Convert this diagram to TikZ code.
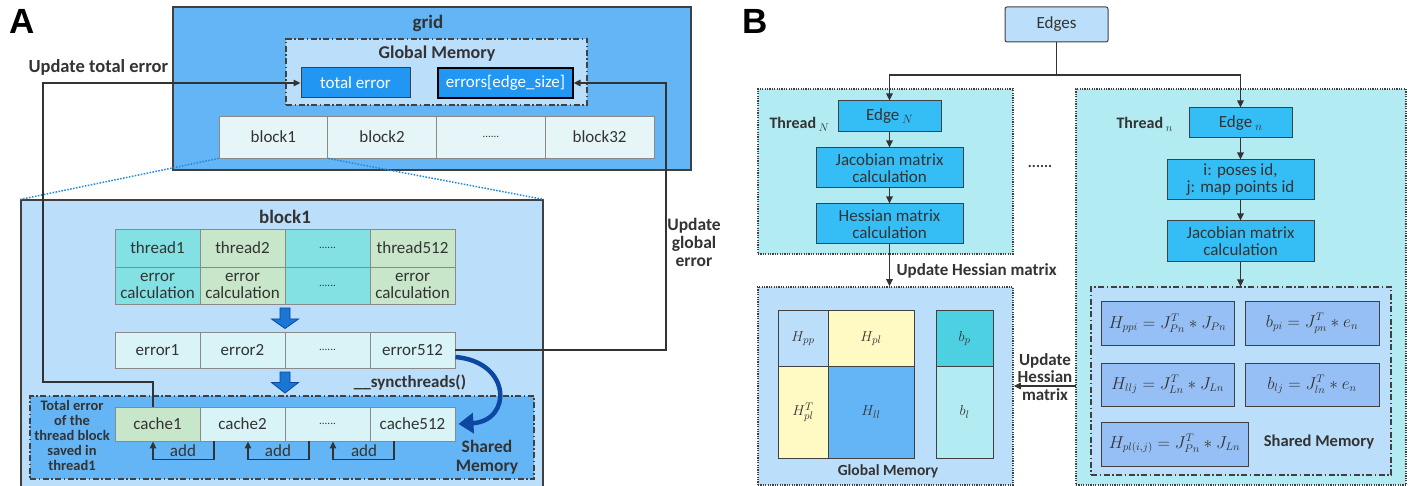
\documentclass[tikz,border=0pt]{standalone}
\usepackage{fontspec}
\setmainfont{Carlito}
\newfontfamily\panelfont{Liberation Sans}
\usetikzlibrary{arrows.meta,calc,fit}

\definecolor{txt}{HTML}{333333}
\definecolor{frame}{HTML}{404040}
\definecolor{cellline}{HTML}{8A8A8A}
\definecolor{gridblue}{HTML}{64B5F6}
\definecolor{paleblue}{HTML}{BBDEFB}
\definecolor{memblue}{HTML}{2196F3}
\definecolor{thcyan}{HTML}{84E1E3}
\definecolor{thgreen}{HTML}{C8E6C9}
\definecolor{errcyan}{HTML}{D9F4F6}
\definecolor{blkcyan}{HTML}{E6F6F8}
\definecolor{threadbg}{HTML}{B2EBF2}
\definecolor{procblue}{HTML}{35BEF6}
\definecolor{formblue}{HTML}{96C0F5}
\definecolor{paleyellow}{HTML}{FFF9C4}
\definecolor{bpcyan}{HTML}{4DD0E1}
\definecolor{fatblue}{HTML}{1976D2}
\definecolor{darkblue}{HTML}{0D47A1}
\definecolor{zoomblue}{HTML}{1E88E5}

\begin{document}
\begin{tikzpicture}[x=1pt,y=-1pt,
  every node/.style={text=txt},
  reg/.style={font=\fontsize{17}{19}\selectfont},
  lab/.style={font=\bfseries\fontsize{17}{19}\selectfont, align=center},
  ttl/.style={font=\bfseries\fontsize{19}{21}\selectfont},
  cell/.style={draw=cellline, line width=0.9pt, inner sep=0pt, align=center,
    minimum width=85pt, font=\fontsize{17}{19}\selectfont},
  blk/.style={cell, fill=blkcyan, minimum width=108.75pt, minimum height=42pt},
  dots/.style={font=\fontsize{11}{12}\selectfont},
  container/.style={draw=frame, line width=1.2pt, inner sep=0pt},
  dashdot/.style={draw=frame, line width=1.2pt, inner sep=0pt,
    dash pattern=on 6pt off 2.5pt on 1.5pt off 2.5pt},
  dotbox/.style={draw=frame, line width=1.6pt, inner sep=0pt,
    dash pattern=on 1.2pt off 1.2pt},
  proc/.style={draw=frame, line width=1pt, fill=procblue, inner sep=0pt,
    align=center, font=\fontsize{17}{19}\selectfont},
  form/.style={draw=frame, line width=1pt, fill=formblue, inner sep=0pt,
    font=\fontsize{16}{18}\selectfont},
  mcell/.style={draw=frame, line width=1pt, inner sep=0pt,
    font=\fontsize{15.5}{17}\selectfont},
  conn/.style={draw=txt, line width=1.5pt},
  tip/.style={-{Triangle[length=7pt,width=6.5pt]}},
  fat/.style={fill=fatblue, draw=darkblue, line width=0.8pt, line join=miter},
  zoomline/.style={draw=zoomblue, line width=1.5pt, dash pattern=on 1.5pt off 1.5pt},
]
\useasboundingbox (0,0) rectangle (1411,486);

% ================= Panel A =================
\node[font=\panelfont\bfseries\fontsize{35}{35}\selectfont, text=black, anchor=west] (labA) at (6,21) {A};

% grid with its global memory and block row
\node[container, fill=gridblue, fit={(173,7) (691,170)}] (grid) {};
\node[ttl] (gridT) at (428,23) {grid};
\node[dashdot, fill=paleblue, fit={(286,39) (587,105)}] (gmA) {};
\node[lab, font=\bfseries\fontsize{18}{20}\selectfont] (gmAT) at (437,54) {Global Memory};
\node[draw=frame, line width=1pt, fill=memblue, minimum width=109pt, minimum height=30pt,
  inner sep=0pt, text=white, reg] (toterr) at (355.5,83) {total error};
\node[draw=black, line width=1.3pt, fill=memblue, minimum width=135pt, minimum height=30pt,
  inner sep=0pt, text=white, reg] (errs) at (505.5,83) {errors[edge\_size]};

\node[blk] (b1) at (273.375,137) {block1};
\node[blk] (b2) at (382.125,137) {block2};
\node[blk, dots] (b3) at (490.875,137) {......};
\node[blk] (b4) at (599.625,137) {block32};

% expanded block
\node[container, fill=paleblue, fit={(21,200) (543,495)}] (blkA) {};
\draw[zoomline] (b1.south west) -- (blkA.north west);
\draw[zoomline] (b1.south east) -- (blkA.north east);
\node[ttl] (blkAT) at (285,217) {block1};

% threads
\node[cell, fill=thcyan,  minimum height=38pt] (t1) at (157.5,248) {thread1};
\node[cell, fill=thgreen, minimum height=38pt] (t2) at (242.5,248) {thread2};
\node[cell, fill=thcyan,  minimum height=38pt, dots] (t3) at (327.5,248) {......};
\node[cell, fill=thgreen, minimum height=38pt] (t4) at (412.5,248) {thread512};
\node[cell, fill=thcyan,  minimum height=37pt] (c1) at (157.5,285.5) {error\\[-2pt]calculation};
\node[cell, fill=thgreen, minimum height=37pt] (c2) at (242.5,285.5) {error\\[-2pt]calculation};
\node[cell, fill=thcyan,  minimum height=37pt, dots] (c3) at (327.5,285.5) {......};
\node[cell, fill=thgreen, minimum height=37pt] (c4) at (412.5,285.5) {error\\[-2pt]calculation};

\coordinate (d1) at (285,318);
\draw[fat, shift={(d1)}] (-5,-10) -- (5,-10) -- (5,1) -- (13.5,1) -- (0,10.5) -- (-13.5,1) -- (-5,1) -- cycle;

% errors
\node[cell, fill=errcyan, minimum height=36pt] (e1) at (157.5,350) {error1};
\node[cell, fill=errcyan, minimum height=36pt] (e2) at (242.5,350) {error2};
\node[cell, fill=errcyan, minimum height=36pt, dots] (e3) at (327.5,350) {......};
\node[cell, fill=errcyan, minimum height=36pt] (e4) at (412.5,350) {error512};

\coordinate (d2) at (285,382.5);
\draw[fat, shift={(d2)}] (-5,-10.5) -- (5,-10.5) -- (5,0) -- (13.5,0) -- (0,10.5) -- (-13.5,0) -- (-5,0) -- cycle;

% shared memory
\node[dashdot, fill=gridblue, fit={(30,396) (534,479)}] (shA) {};
\node[cell, fill=thgreen, minimum height=34pt] (k1) at (157.5,424) {cache1};
\node[cell, fill=errcyan, minimum height=34pt] (k2) at (242.5,424) {cache2};
\node[cell, fill=errcyan, minimum height=34pt, dots] (k3) at (327.5,424) {......};
\node[cell, fill=errcyan, minimum height=34pt] (k4) at (412.5,424) {cache512};

\node[font=\bfseries\fontsize{14.5}{15.2}\selectfont, align=center] (totlab) at (72,435.5)
  {Total error\\of the\\thread block\\saved in\\thread1};
\node[lab, font=\bfseries\fontsize{17.5}{19}\selectfont] (shAT) at (487,457.5) {Shared\\Memory};

% reduction brackets
\draw[conn, tip] (k2.south -| 214,0) -- ++(0,18) -| (k1.south -| 153,0);
\draw[conn, tip] (k3.south -| 309,0) -- ++(0,18) -| (k2.south -| 248,0);
\draw[conn, tip] (k4.south -| 394,0) -- ++(0,18) -| (k3.south -| 333,0);
\node[reg] (add1) at (183,451) {add};
\node[reg] (add2) at (278,451) {add};
\node[reg] (add3) at (364,451) {add};

% synchronisation
\draw[darkblue, line width=4.5pt, -{Triangle[length=15pt,width=20pt]}]
  ([yshift=-7pt]e4.east) .. controls (512,362) and (512,421) .. ([xshift=3pt]k4.east);
\node[lab] (sync) at (410,383) {\_\_syncthreads()};

% write-back connectors
\coordinate (tl) at (43,382);
\draw[conn, tip] ([xshift=-4.5pt]k1.north) |- (tl) |- (toterr.west);
\node[lab, font=\bfseries\fontsize{18.5}{20}\selectfont, anchor=west] (upd1) at (25,67) {Update total error};
\coordinate (ge) at (666,200);
\draw[conn, tip] (e4.east) -| (ge) |- (errs.east);
\node[lab, font=\bfseries\fontsize{17.5}{18}\selectfont] (upd2) at (694,242) {Update\\global\\error};

% ================= Panel B =================
\node[font=\panelfont\bfseries\fontsize{35}{35}\selectfont, text=black, anchor=west] (labB) at (739,21) {B};

\node[draw=frame, line width=1pt, fill=paleblue, rounded corners=2pt, minimum width=103pt,
  minimum height=35pt, inner sep=0pt, reg] (edges) at (1056.5,24.5) {Edges};

% thread N
\node[dotbox, fill=threadbg, fit={(758,89) (1013,254)}] (thN) {};
\node[lab, font=\bfseries\fontsize{16}{18}\selectfont, anchor=west] (thNT) at (766,124) {Thread\,\raisebox{-3pt}{$\scriptstyle N$}};
\node[proc, minimum width=103pt, minimum height=31pt] (edgeN) at (889.5,116.5) {Edge\,\raisebox{-3pt}{$\scriptstyle N$}};
\node[proc, minimum width=147pt, minimum height=40pt] (jacN) at (889.5,168) {Jacobian matrix\\[-2pt]calculation};
\node[proc, minimum width=147pt, minimum height=40pt] (hesN) at (889.5,224) {Hessian matrix\\[-2pt]calculation};

% thread n
\node[dotbox, fill=threadbg, fit={(1076,89) (1406,485)}] (thn) {};
\node[lab, font=\bfseries\fontsize{16}{18}\selectfont, anchor=west] (thnT) at (1113,124) {Thread\,\raisebox{-3pt}{$\scriptstyle n$}};
\node[proc, minimum width=103pt, minimum height=30pt] (edgen) at (1240.5,123) {Edge\,\raisebox{-3pt}{$\scriptstyle n$}};
\node[proc, minimum width=147pt, minimum height=40pt] (ids) at (1240.5,180) {i: poses id,\\[-2pt]j: map points id};
\node[proc, minimum width=147pt, minimum height=41pt] (jacn) at (1240.5,241.5) {Jacobian matrix\\[-2pt]calculation};

\node[font=\bfseries\fontsize{15}{17}\selectfont] (between) at (1040,166) {......};

% edge dispatch
\coordinate (split) at (1056.5,75);
\draw[conn, tip] (edges.south) -- (split) -| (edgeN.north);
\draw[conn, tip] (split) -| (edgen.north);
\draw[conn, tip] (edgeN) -- (jacN);
\draw[conn, tip] (jacN) -- (hesN);
\draw[conn, tip] (edgen) -- (ids);
\draw[conn, tip] (ids) -- (jacn);

% global memory
\node[dotbox, fill=paleblue, fit={(758,287) (1013,485)}] (gmB) {};
\draw[conn, tip] (hesN.south) -- (hesN.south |- gmB.north);
\node[lab, anchor=west] (updH) at (893,271) {Update Hessian matrix};
\node[mcell, fill=paleblue,   minimum width=50pt, minimum height=55pt] (hpp) at (803,338.5) {$H_{pp}$};
\node[mcell, fill=paleyellow, minimum width=86pt, minimum height=55pt] (hpl) at (871,338.5) {$H_{pl}$};
\node[mcell, fill=paleyellow, minimum width=50pt, minimum height=92pt] (hplt) at (803,412) {$H_{pl}^{T}$};
\node[mcell, fill=gridblue,   minimum width=86pt, minimum height=92pt] (hll) at (871,412) {$H_{ll}$};
\node[mcell, fill=bpcyan,     minimum width=57pt, minimum height=55pt] (bp) at (964.5,338.5) {$b_{p}$};
\node[mcell, fill=threadbg,   minimum width=57pt, minimum height=92pt] (bl) at (964.5,412) {$b_{l}$};
\node[lab, font=\bfseries\fontsize{15.5}{17}\selectfont] (gmBT) at (888,471) {Global Memory};

% shared memory of thread n
\node[dashdot, fill=paleblue, fit={(1091,287) (1391,475)}] (shB) {};
\draw[conn, tip] (jacn.south) -- (jacn.south |- shB.north);
\node[form, minimum width=133pt, minimum height=43pt] (f1) at (1167.5,323.5) {$H_{ppi}=J_{Pn}^{T}*J_{Pn}$};
\node[form, minimum width=134pt, minimum height=43pt] (f2) at (1312,323.5) {$b_{pi}=J_{pn}^{T}*e_{n}$};
\node[form, minimum width=133pt, minimum height=43pt] (f3) at (1167.5,384.5) {$H_{llj}=J_{Ln}^{T}*J_{Ln}$};
\node[form, minimum width=134pt, minimum height=43pt] (f4) at (1312,384.5) {$b_{lj}=J_{ln}^{T}*e_{n}$};
\node[form, minimum width=147pt, minimum height=44pt] (f5) at (1174.5,444) {$H_{pl(i,j)}=J_{Pn}^{T}*J_{Ln}$};
\node[lab, font=\bfseries\fontsize{16.5}{18}\selectfont] (shBT) at (1319,442) {Shared Memory};

% hessian update from thread n into global memory
\coordinate (hsrc) at (1076,386);
\draw[conn, tip] (hsrc) -- (hsrc -| gmB.east);
\node[lab, font=\bfseries\fontsize{17}{17.5}\selectfont] (updH2) at (1045,377) {Update\\Hessian\\matrix};

\end{tikzpicture}
\end{document}
